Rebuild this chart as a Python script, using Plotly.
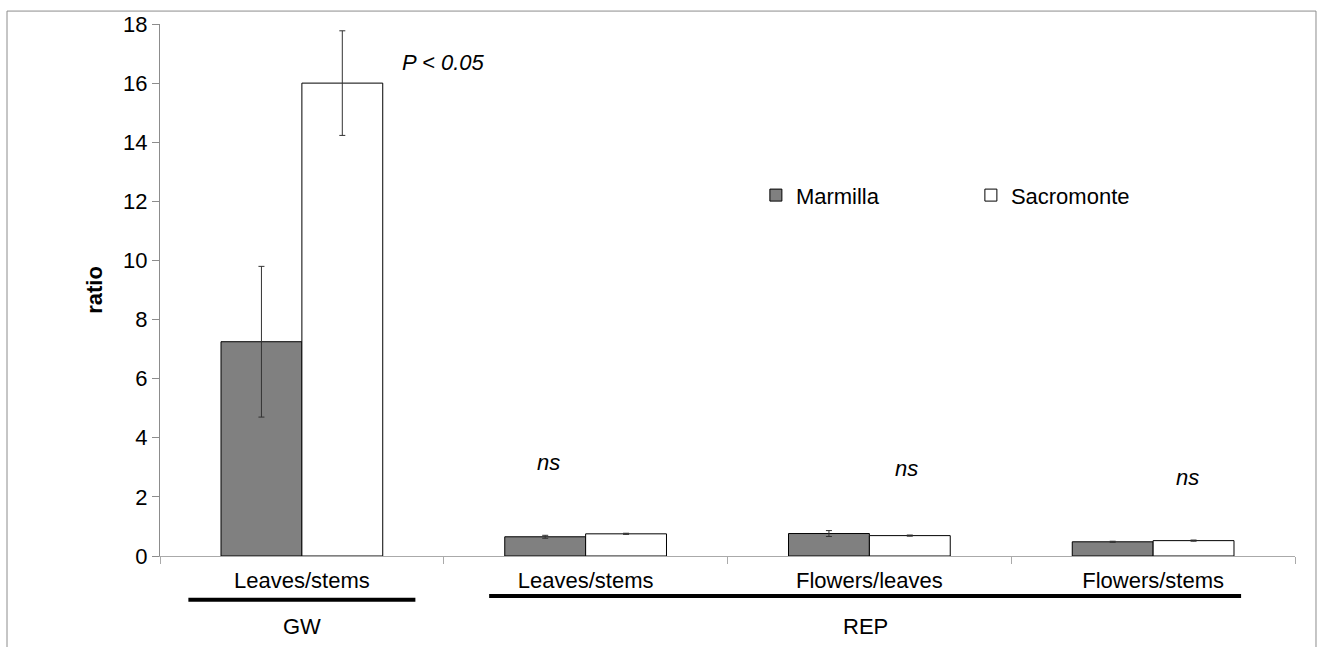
import plotly.graph_objects as go

# ---- data ----
categories = ["GW Leaves/stems", "REP Leaves/stems", "REP Flowers/leaves", "REP Flowers/stems"]
tick_labels = ["Leaves/stems", "Leaves/stems", "Flowers/leaves", "Flowers/stems"]
marmilla = [7.25, 0.65, 0.76, 0.48]
marmilla_err = [2.55, 0.05, 0.10, 0.02]
sacromonte = [16.0, 0.75, 0.69, 0.52]
sacromonte_err = [1.77, 0.02, 0.02, 0.02]
groups = ["GW", "REP"]
group_spans = [(-0.40, 0.40), (0.66, 3.31)]
sig_labels = ["P < 0.05", "ns", "ns", "ns"]
sig_pos = [(0.50, 16.7), (0.87, 3.17), (2.13, 2.97), (3.12, 2.66)]

FONT = "Arial, Liberation Sans, sans-serif"
FS = 22

fig = go.Figure()
fig.add_trace(go.Bar(
    x=categories, y=marmilla, name="Marmilla",
    marker=dict(color="#808080", line=dict(color="black", width=1)),
    error_y=dict(type="data", array=marmilla_err, color="#333333", thickness=1, width=3),
))
fig.add_trace(go.Bar(
    x=categories, y=sacromonte, name="Sacromonte",
    marker=dict(color="white", line=dict(color="black", width=1)),
    error_y=dict(type="data", array=sacromonte_err, color="#333333", thickness=1, width=3),
))

annotations = []
for txt, (xx, yy) in zip(sig_labels, sig_pos):
    annotations.append(dict(x=xx, y=yy, xref="x", yref="y", text=f"<i>{txt}</i>",
                            showarrow=False, xanchor="center", yanchor="middle",
                            font=dict(size=FS, color="black", family=FONT)))
shapes = []
for g, (x0, x1) in zip(groups, group_spans):
    yl = -0.0824 if g == "GW" else -0.075
    shapes.append(dict(type="line", xref="x", yref="paper", x0=x0, x1=x1,
                       y0=yl, y1=yl, line=dict(color="black", width=4)))
    annotations.append(dict(x=(x0 + x1) / 2, y=-0.133, xref="x", yref="paper", text=g,
                            showarrow=False, xanchor="center", yanchor="middle",
                            font=dict(size=FS, color="black", family=FONT)))
# outer frame
shapes.append(dict(type="rect", xref="paper", yref="paper", x0=-0.1348, x1=1.0185,
                   y0=-0.2, y1=1.0243, line=dict(color="#8c8c8c", width=1), layer="below"))

fig.update_layout(
    width=1325, height=647,
    margin=dict(l=160, r=30, t=22, b=91),
    paper_bgcolor="white", plot_bgcolor="white",
    barmode="group", bargap=0.43, bargroupgap=0,
    font=dict(family=FONT, size=FS, color="black"),
    showlegend=True,
    legend=dict(orientation="h", x=0.525, y=0.678, xanchor="left", yanchor="middle",
                entrywidth=170, entrywidthmode="pixels", bgcolor="rgba(0,0,0,0)",
                font=dict(size=FS, family=FONT)),
    annotations=annotations, shapes=shapes,
    xaxis=dict(type="category", tickmode="array", tickvals=categories, ticktext=tick_labels,
               tickson="boundaries", ticks="outside", ticklen=7, tickcolor="#aaaaaa",
               showline=True, linecolor="#aaaaaa", linewidth=1, showgrid=False,
               range=[-0.5, 3.5], tickfont=dict(size=FS), ticklabelstandoff=5),
    yaxis=dict(range=[0, 18], dtick=2, ticks="outside", ticklen=7, tickcolor="#8c8c8c",
               showline=True, linecolor="#8c8c8c", linewidth=1, showgrid=False, zeroline=False,
               title=dict(text="<b>ratio</b>", font=dict(size=FS), standoff=14),
               tickfont=dict(size=FS)),
)

fig.write_html("out.html")
